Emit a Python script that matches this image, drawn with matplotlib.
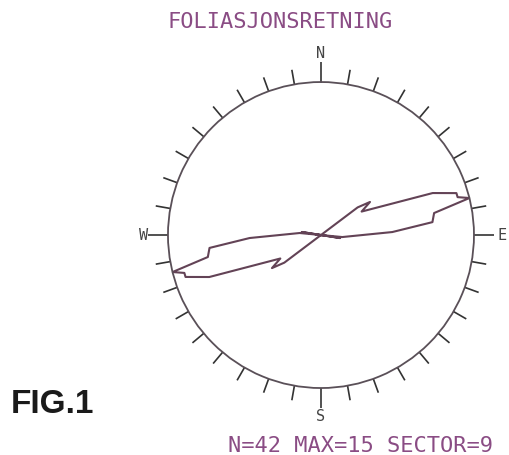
import numpy as np
import matplotlib
matplotlib.use('Agg')
import matplotlib.pyplot as plt

# rose outline, one half (azimuth in degrees, count); other half is mirrored
az_half = [0, 52, 53, 56, 60, 69.4, 72.8, 74.5, 76, 79, 83.4, 87.6, 95.4, 97, 99, 101, 180]
cnt_half = [0, 0, 4.5, 5.8, 4.6, 11.7, 13.9, 13.9, 15, 11.3, 11, 7, 2.1, 0, 1.9, 0, 0]

n_meas = 42
max_cnt = 15
sector = 9
title = 'FOLIASJONSRETNING'
cardinals = ['N', 'E', 'S', 'W']
card_az = [0, 90, 180, 270]
tick_az = list(range(0, 360, 10))

# full rose = half + half rotated by 180
az = np.array(az_half + [a + 180 for a in az_half])
cnt = np.array(cnt_half + cnt_half)

ink = '#634356'
txt = '#8a4c84'

fig = plt.figure(figsize=(5.09, 4.55), dpi=100)
ax = fig.add_axes([0.330, 0.1472, 0.6012, 0.6725], projection='polar')
ax.set_theta_zero_location('N')
ax.set_theta_direction(-1)
ax.set_rlim(0, max_cnt)
ax.set_yticks([])
ax.set_xticks([])
ax.grid(False)
ax.spines['polar'].set_color('#5a5058')
ax.spines['polar'].set_linewidth(1.3)

# ticks every 10 deg outside the circle, cardinal ones longer
for a in tick_az:
    ln = 1.95 if a % 90 == 0 else 1.45
    t = np.deg2rad(a)
    ax.plot([t, t], [max_cnt, max_cnt + ln], color='#333333', lw=1.2,
            clip_on=False, solid_capstyle='butt')

ax.plot(np.deg2rad(az), cnt, color=ink, lw=1.5)

for lab, a in zip(cardinals, card_az):
    rr = 17.4 if lab == 'W' else 17.75
    ax.text(np.deg2rad(a), rr, lab, ha='center', va='center', fontsize=11,
            family='DejaVu Sans Mono', color='#444444', clip_on=False)

fig.text(0.550, 0.9516, title, ha='center', va='center', fontsize=15.8,
         family='DejaVu Sans Mono', color=txt)
fig.text(0.7073, 0.0198, 'N=%d MAX=%d SECTOR=%d' % (n_meas, max_cnt, sector),
         ha='center', va='center', fontsize=15.8, family='DejaVu Sans Mono', color=txt)
fig.text(0.104, 0.110, 'FIG.1', ha='center', va='center', fontsize=24,
         family='Liberation Sans', fontweight='bold', color='#1a1a1a')

plt.savefig('out.png', dpi=100)
